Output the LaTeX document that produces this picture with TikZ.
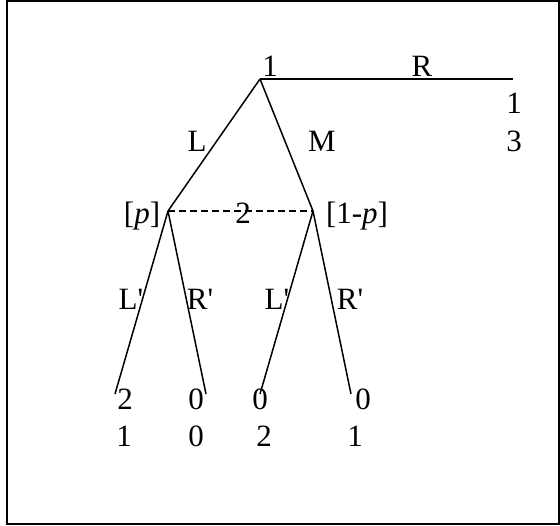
\documentclass[tikz,border=0pt]{standalone}
\usepackage{fontspec}
\setmainfont{Liberation Serif}
\begin{document}
\begin{tikzpicture}[x=1pt,y=-1pt,
  lbl/.style={font=\fontsize{31}{37}\selectfont, inner sep=0pt, anchor=base},
  edge/.style={line width=1.5pt}]
\useasboundingbox (0,0) rectangle (560,526);
\draw[line width=2pt] (7,1.5) rectangle (558.5,524.5);
\coordinate (n1) at (260,79);
\coordinate (rend) at (513,79);
\coordinate (a) at (168,211);
\coordinate (b) at (313,211);
\coordinate (t1) at (115,394);
\coordinate (t2) at (206,394);
\coordinate (t3) at (260,394);
\coordinate (t4) at (351,394);
\draw[edge] (n1) -- (rend);
\draw[edge] (n1) -- (a);
\draw[edge] (n1) -- (b);
\draw[edge] (a) -- (t1);
\draw[edge] (a) -- (t2);
\draw[edge] (b) -- (t3);
\draw[edge] (b) -- (t4);
\draw[edge, dash pattern=on 7pt off 4pt] (a) -- (b);
\node[lbl] (l1) at (270,77) {1};
\node[lbl] (lR) at (422,77) {R};
\node[lbl] (pR1) at (514,114) {1};
\node[lbl] (pR2) at (514,152) {3};
\node[lbl] (lL) at (197,152) {L};
\node[lbl] (lM) at (322,152) {M};
\node[lbl] (lp) at (142,224) {[\textit{p}]};
\node[lbl] (l2) at (243,224) {2};
\node[lbl] (l1p) at (357,224) {[1-\textit{p}]};
\node[lbl] (lL1) at (131,310) {L\textquotesingle};
\node[lbl] (lR1) at (200,310) {R\textquotesingle};
\node[lbl] (lL2) at (277,310) {L\textquotesingle};
\node[lbl] (lR2) at (350,310) {R\textquotesingle};
\node[lbl] (p11) at (125,410) {2};
\node[lbl] (p12) at (196,410) {0};
\node[lbl] (p13) at (260,410) {0};
\node[lbl] (p14) at (363,410) {0};
\node[lbl] (p21) at (124,447) {1};
\node[lbl] (p22) at (196,447) {0};
\node[lbl] (p23) at (264,447) {2};
\node[lbl] (p24) at (355,447) {1};
\end{tikzpicture}
\end{document}
